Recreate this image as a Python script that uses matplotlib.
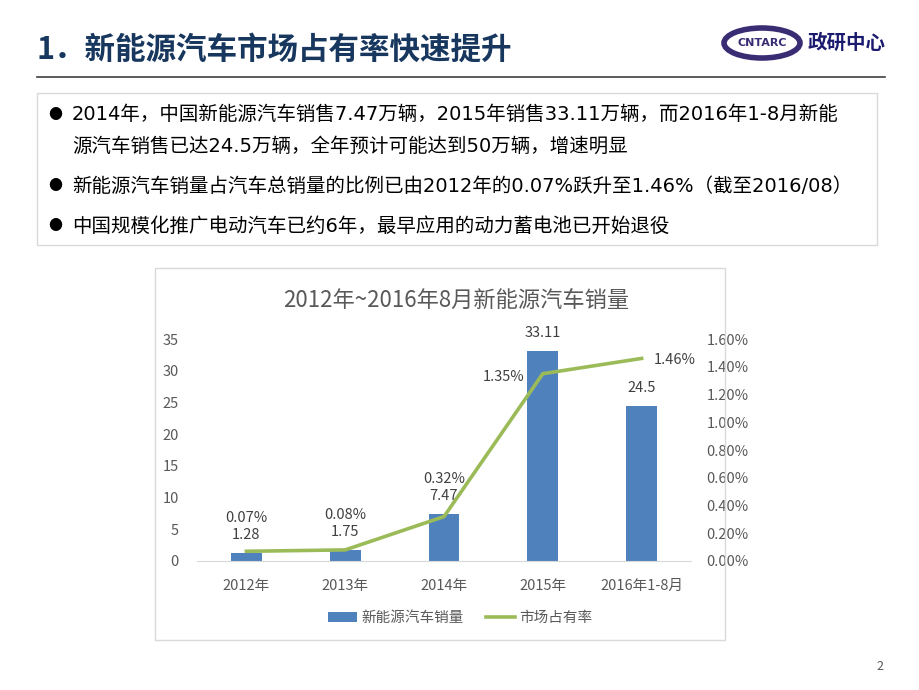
import matplotlib
matplotlib.use("Agg")
import matplotlib.pyplot as plt
from matplotlib.patches import Rectangle, Ellipse, Patch
from matplotlib.lines import Line2D
from matplotlib.ticker import FuncFormatter

plt.rcParams['font.family'] = ['Noto Sans CJK SC', 'DejaVu Sans']

# ---- data ----
categories = ['2012年', '2013年', '2014年', '2015年', '2016年1-8月']
sales = [1.28, 1.75, 7.47, 33.11, 24.5]          # 万辆
share = [0.07, 0.08, 0.32, 1.35, 1.46]           # %
sales_labels = ['1.28', '1.75', '7.47', '33.11', '24.5']
share_labels = ['0.07%', '0.08%', '0.32%', '1.35%', '1.46%']
left_ticks = [0, 5, 10, 15, 20, 25, 30, 35]
right_ticks = [0.0, 0.2, 0.4, 0.6, 0.8, 1.0, 1.2, 1.4, 1.6]

title_text = '1．新能源汽车市场占有率快速提升'
chart_title = '2012年~2016年8月新能源汽车销量'
bullets = [
    ['2014年，中国新能源汽车销售7.47万辆，2015年销售33.11万辆，而2016年1-8月新能',
     '源汽车销售已达24.5万辆，全年预计可能达到50万辆，增速明显'],
    ['新能源汽车销量占汽车总销量的比例已由2012年的0.07%跃升至1.46%（截至2016/08）'],
    ['中国规模化推广电动汽车已约6年，最早应用的动力蓄电池已开始退役'],
]
legend_labels = ['新能源汽车销量', '市场占有率']

W, H = 920, 690
BAR_C = '#4F81BD'
LINE_C = '#9BBB59'
GRAY = '#595959'
NAVY = '#17375E'

fig = plt.figure(figsize=(W / 100, H / 100), dpi=100)
fig.patch.set_facecolor('white')

def fx(px):
    return px / W

def fy(py):
    return 1 - py / H

# ---- header ----
fig.text(fx(37), fy(50), title_text, fontsize=22, fontweight='bold', color=NAVY,
         va='center', ha='left')
fig.add_artist(Line2D([fx(37), fx(885)], [fy(77), fy(77)], color='#404040', lw=1.2))

# logo
fig.add_artist(Ellipse((fx(762), fy(43)), 76 / W, 30 / H, transform=fig.transFigure,
                       fill=False, edgecolor='#3A2C73', lw=4))
fig.text(fx(762), fy(43), 'CNTARC', fontsize=8, fontweight='bold', color='#3A2C73',
         ha='center', va='center', family='DejaVu Sans Condensed')
fig.text(fx(808), fy(43), '政研中心', fontsize=14, fontweight='bold', color='#1A1A6E',
         ha='left', va='center')

# ---- bullet text box ----
fig.add_artist(Rectangle((fx(37), fy(245)), (877 - 37) / W, (245 - 93) / H,
                         transform=fig.transFigure, fill=False, edgecolor='#D9D9D9', lw=1))
line_y = [[115, 146], [186], [226]]
for blk, ys in zip(bullets, line_y):
    fig.text(fx(48), fy(ys[0]), '●', fontsize=10, color='black', ha='left', va='center')
    for t, yy in zip(blk, ys):
        fig.text(fx(72), fy(yy), t, fontsize=14, color='black', ha='left', va='center',
                 family=['DejaVu Sans', 'Noto Sans CJK SC'])

# ---- chart frame ----
fig.add_artist(Rectangle((fx(155), fy(640)), (725 - 155) / W, (640 - 268) / H,
                         transform=fig.transFigure, fill=False, edgecolor='#D9D9D9', lw=1))
fig.text(fx(456), fy(301), chart_title, fontsize=16, color=GRAY, ha='center', va='center')

ax = fig.add_axes([fx(197), fy(561), (691 - 197) / W, (561 - 339) / H])
x = list(range(len(categories)))
ax.bar(x, sales, width=0.31, color=BAR_C, zorder=2)
ax.set_xlim(-0.5, len(categories) - 0.5)
ax.set_ylim(0, 35)
ax.set_yticks(left_ticks)
ax.set_xticks(x)
ax.set_xticklabels(categories)
for s in ['top', 'right', 'left']:
    ax.spines[s].set_visible(False)
ax.spines['bottom'].set_color('#D9D9D9')
ax.tick_params(axis='both', length=0, colors=GRAY, labelsize=10.5)
ax.tick_params(axis='y', pad=13)
ax.tick_params(axis='x', pad=13)

ax2 = ax.twinx()
ax2.plot(x, share, color=LINE_C, lw=2.6, zorder=3)
ax2.set_ylim(0, 1.6)
ax2.set_yticks(right_ticks)
ax2.yaxis.set_major_formatter(FuncFormatter(lambda v, p: f'{v:.2f}%'))
for s in ['top', 'right', 'left', 'bottom']:
    ax2.spines[s].set_visible(False)
ax2.tick_params(axis='y', length=0, colors=GRAY, labelsize=10.5, pad=11)

PX = 0.72  # points per pixel
for i, (v, lab) in enumerate(zip(sales, sales_labels)):
    ax.annotate(lab, (i, v), xytext=(0, 18 * PX), textcoords='offset points',
                ha='center', va='center', fontsize=10.5, color='#404040')
for i, (v, lab) in enumerate(zip(share, share_labels)):
    if i < 3:
        ax.annotate(lab, (i, sales[i]), xytext=(0, 35 * PX), textcoords='offset points',
                    ha='center', va='center', fontsize=10.5, color='#404040')
    elif i == 3:
        ax2.annotate(lab, (i, v), xytext=(-18 * PX, -3 * PX), textcoords='offset points',
                     ha='right', va='center', fontsize=10.5, color='#404040')
    else:
        ax2.annotate(lab, (i, v), xytext=(12 * PX, -2 * PX), textcoords='offset points',
                     ha='left', va='center', fontsize=10.5, color='#404040')

handles = [Patch(facecolor=BAR_C), Line2D([0], [0], color=LINE_C, lw=2.6)]
fig.legend(handles, legend_labels, loc='center', bbox_to_anchor=(fx(460), fy(618)),
           ncol=2, frameon=False, fontsize=10.5, labelcolor=GRAY, handlelength=2.0,
           handleheight=0.7, columnspacing=1.5, handletextpad=0.3)

fig.text(fx(880), fy(667), '2', fontsize=9, color=GRAY, ha='center', va='center')

fig.savefig('out.png', dpi=100)
